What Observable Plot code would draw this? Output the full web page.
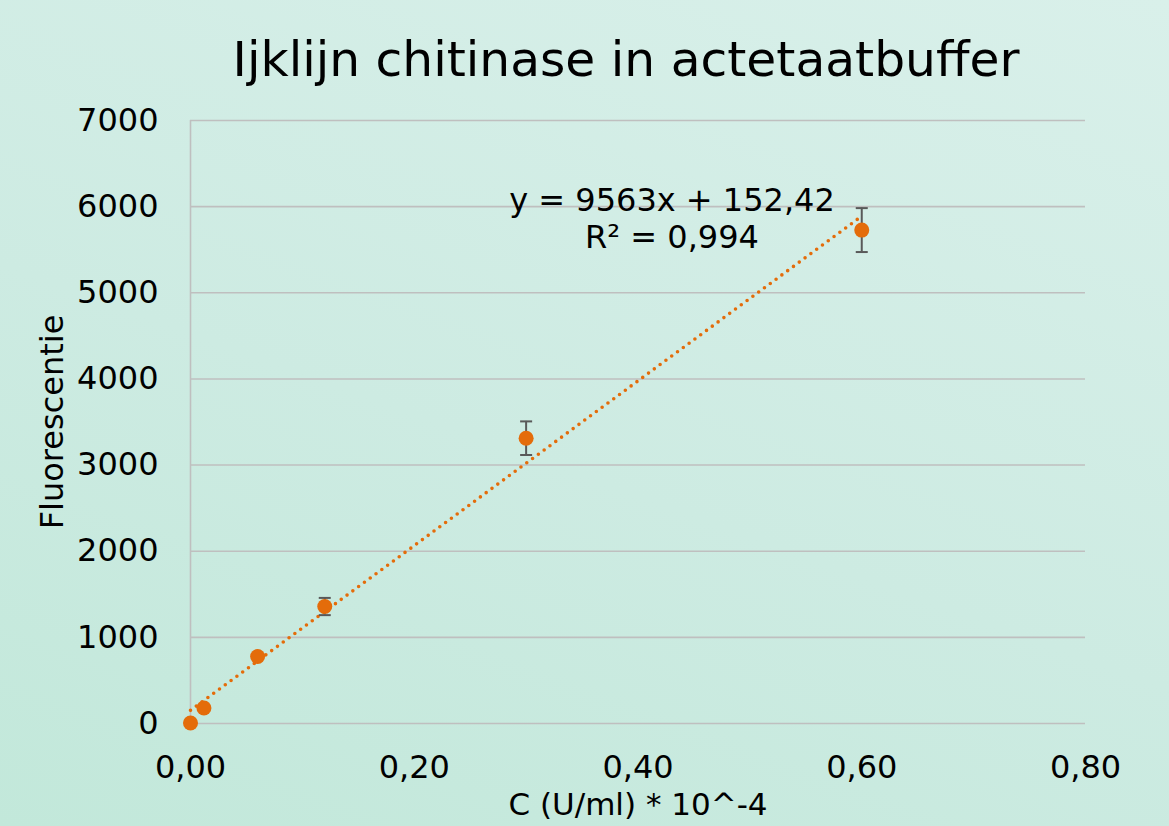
<!DOCTYPE html>
<html>
<head>
<meta charset="utf-8">
<script src="https://cdn.jsdelivr.net/npm/d3@7"></script>
<script src="https://cdn.jsdelivr.net/npm/@observablehq/plot@0.6"></script>
<style>
  html, body { margin: 0; padding: 0; }
  #chart {
    width: 1169px; height: 826px; overflow: hidden; position: relative;
    background: linear-gradient(20deg, #c2e8da 0%, #cdebe2 45%, #d9f0ea 100%);
  }
</style>
</head>
<body>
<div id="chart"></div>
<script>
// ---- data ----
const concentrations = [0, 0.012, 0.06, 0.12, 0.3, 0.6];      // C (U/ml) * 10^-4
const fluorescence   = [5, 180, 778, 1358, 3312, 5728];
const errors         = [0, 0, 0, 100, 195, 255];
const trendSlope = 9563;
const trendIntercept = 152.42;
const trendRange = [0, 0.6];
const xTicks = [0, 0.2, 0.4, 0.6, 0.8];
const yTicks = [0, 1000, 2000, 3000, 4000, 5000, 6000, 7000];
const titleText = "Ijklijn chitinase in actetaatbuffer";
const xLabel = "C (U/ml) * 10^-4";
const yLabel = "Fluorescentie";
const eqLine1 = "y = 9563x + 152,42";
const eqLine2 = "R² = 0,994";

const points = concentrations.map((x, i) => ({x, y: fluorescence[i], e: errors[i]}));
const withErr = points.filter(d => d.e > 0);
const trend = trendRange.map(x => ({x, y: trendSlope * x + trendIntercept}));

const capSymbol = {
  draw(context, size) {
    const w = Math.sqrt(size / Math.PI);
    context.moveTo(-w, 0);
    context.lineTo(w, 0);
  }
};

const orange = "#e46c0a";
const grey = "#bfbfbf";
const font = "DejaVu Sans, Verdana, sans-serif";

const plot = Plot.plot({
  width: 1169,
  height: 826,
  marginLeft: 190,
  marginRight: 84,
  marginTop: 120,
  marginBottom: 103,
  style: {background: "transparent", fontFamily: font, fontSize: "32px", color: "#000", overflow: "visible"},
  x: {domain: [0, 0.8]},
  y: {domain: [0, 7000]},
  marks: [
    Plot.ruleY(yTicks, {stroke: grey, strokeWidth: 1.6, strokeOpacity: 1}),
    Plot.ruleX([0], {y1: 0, y2: 7000, stroke: grey, strokeWidth: 1.6}),
    Plot.axisX({ticks: xTicks, tickSize: 0, tickPadding: 32, fontSize: 32, tickFormat: d => d3.format(".2f")(d).replace(".", ","), label: null}),
    Plot.axisY({ticks: yTicks, tickSize: 0, tickPadding: 32, fontSize: 32, tickFormat: d => String(d), label: null}),
    Plot.line(trend, {x: "x", y: "y", stroke: orange, strokeWidth: 3.6, strokeDasharray: "0 7.2", strokeLinecap: "round"}),
    Plot.ruleX(withErr, {x: "x", y1: d => d.y - d.e, y2: d => d.y + d.e, stroke: "#595959", strokeWidth: 2}),
    Plot.dot(withErr, {x: "x", y: d => d.y - d.e, symbol: capSymbol, r: 6, stroke: "#595959", strokeWidth: 2, fill: "none"}),
    Plot.dot(withErr, {x: "x", y: d => d.y + d.e, symbol: capSymbol, r: 6, stroke: "#595959", strokeWidth: 2, fill: "none"}),
    Plot.dot(points, {x: "x", y: "y", r: 7.5, fill: orange, stroke: "none"}),
    Plot.text([titleText], {frameAnchor: "top", textAnchor: "middle", lineAnchor: "middle", dx: -12, dy: -60, fontSize: 48.7, fill: "#000"}),
    Plot.text([eqLine1], {frameAnchor: "top", textAnchor: "middle", lineAnchor: "middle", dx: 34, dy: 80, fontSize: 32, fill: "#000"}),
    Plot.text([eqLine2], {frameAnchor: "top", textAnchor: "middle", lineAnchor: "middle", dx: 34, dy: 117, fontSize: 32, fill: "#000"}),
    Plot.text([yLabel], {frameAnchor: "left", textAnchor: "middle", lineAnchor: "middle", dx: -138, rotate: -90, fontSize: 32, fill: "#000"}),
    Plot.text([xLabel], {frameAnchor: "bottom", textAnchor: "middle", lineAnchor: "middle", dy: 82, fontSize: 31, fill: "#000"})
  ]
});
document.getElementById("chart").appendChild(plot);
</script>
</body>
</html>
